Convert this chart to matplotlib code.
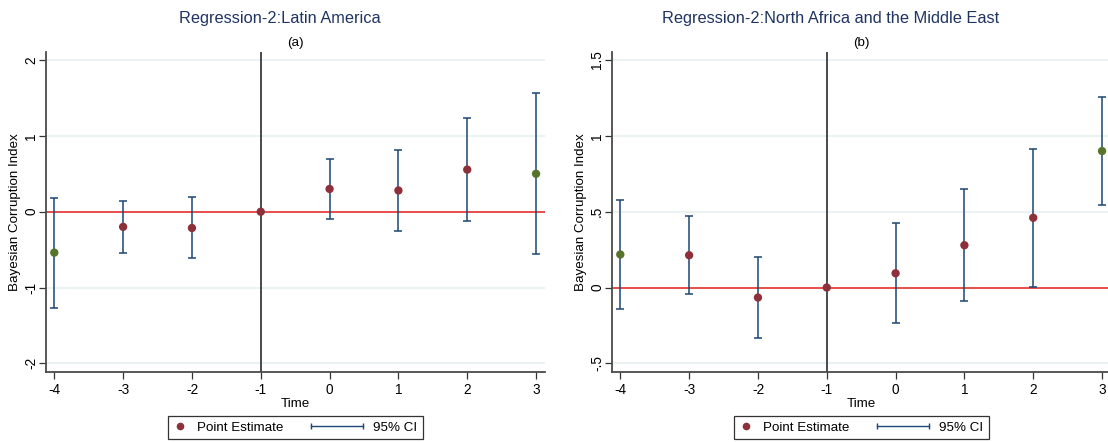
import matplotlib
matplotlib.use('Agg')
import matplotlib.pyplot as plt
from matplotlib.lines import Line2D
from matplotlib.legend_handler import HandlerLine2D

plt.rcParams['font.family'] = ['Liberation Sans', 'DejaVu Sans']

# event time
periods = [-4, -3, -2, -1, 0, 1, 2, 3]
# endpoint bins are drawn in a different colour
binned = [True, False, False, False, False, False, False, True]

# Regression-2: Latin America
latam_est = [-0.54, -0.20, -0.215, 0.0, 0.30, 0.28, 0.555, 0.50]
latam_lo = [-1.27, -0.54, -0.615, 0.0, -0.09, -0.255, -0.12, -0.56]
latam_hi = [0.185, 0.14, 0.19, 0.0, 0.70, 0.82, 1.23, 1.57]

# Regression-2: North Africa and the Middle East
mena_est = [0.218, 0.213, -0.066, 0.0, 0.094, 0.279, 0.46, 0.90]
mena_lo = [-0.141, -0.044, -0.333, 0.0, -0.233, -0.088, 0.002, 0.541]
mena_hi = [0.578, 0.47, 0.20, 0.0, 0.424, 0.649, 0.915, 1.256]

latam_yticks = [-2, -1, 0, 1, 2]
latam_ylabels = ['-2', '-1', '0', '1', '2']
mena_yticks = [-0.5, 0, 0.5, 1, 1.5]
mena_ylabels = ['-.5', '0', '.5', '1', '1.5']

NAVY = '#1d4674'
MAROON = '#8e3039'
GREEN = '#56742a'
TITLE = '#1f3461'


class HandlerCI(HandlerLine2D):
    """Horizontal capped line for the CI legend key."""
    def create_artists(self, legend, orig_handle, xdescent, ydescent,
                       width, height, fontsize, trans):
        y = (height - ydescent) / 2.0
        x1 = width - xdescent
        x0 = x1 - 3.9 * fontsize
        line = Line2D([x0, x1], [y, y], color=NAVY, lw=1.0,
                      marker='|', markersize=5, markeredgewidth=1.0)
        line.set_transform(trans)
        return [line]


def draw_panel(ax, est, lo, hi, ylim, yticks, ylabels, sub):
    ax.set_xlim(-4.125, 3.13)
    ax.set_ylim(*ylim)
    for yt in yticks:
        ax.axhline(yt, color='#e9f1f2', lw=1.3, zorder=0)
    ax.axvline(-1, color='#2b2b2b', lw=1.2, zorder=1)
    ax.axhline(0, color='#e8322e', lw=1.2, zorder=2)

    xs = [p for p, e, l, h in zip(periods, est, lo, hi) if h != l]
    ys = [e for p, e, l, h in zip(periods, est, lo, hi) if h != l]
    lower = [e - l for e, l, h in zip(est, lo, hi) if h != l]
    upper = [h - e for e, l, h in zip(est, lo, hi) if h != l]
    ax.errorbar(xs, ys, yerr=[lower, upper], fmt='none', ecolor=NAVY,
                elinewidth=1.1, capsize=3, capthick=1.1, zorder=3)
    colors = [GREEN if b else MAROON for b in binned]
    ax.scatter(periods, est, s=36, c=colors, zorder=4, linewidths=0)

    for s in ['top', 'right']:
        ax.spines[s].set_visible(False)
    for s in ['left', 'bottom']:
        ax.spines[s].set_color('#4a4a4a')
        ax.spines[s].set_linewidth(1.3)

    ax.set_xticks(periods)
    ax.set_xticklabels([str(p) for p in periods])
    ax.set_yticks(yticks)
    ax.set_yticklabels(ylabels, rotation=90, va='center')
    ax.tick_params(direction='out', length=5, width=0.9, colors='#333333',
                   labelsize=9.8, labelcolor='black', pad=3)
    ax.tick_params(axis='y', pad=0.5)
    ax.set_xlabel('Time', fontsize=9.6, labelpad=1)
    ax.set_ylabel('Bayesian Corruption Index', fontsize=9.6)
    ax.yaxis.set_label_coords(-25 / 499.3, 0.5)
    ax.set_title(sub, fontsize=9.6, pad=4)

    pt = Line2D([], [], color=MAROON, marker='o', ls='none', markersize=5.5,
                markeredgewidth=0)
    ci = Line2D([], [], color=NAVY)
    leg = ax.legend([pt, ci], ['Point Estimate', '95% CI'], ncol=2,
                    loc='upper center', bbox_to_anchor=(0.5, -0.138),
                    borderaxespad=0, frameon=True, fancybox=False,
                    handlelength=1.0, handletextpad=0.75, columnspacing=5.0,
                    borderpad=0.4, fontsize=9.6,
                    handler_map={ci: HandlerCI()})
    leg.get_frame().set_edgecolor('black')
    leg.get_frame().set_linewidth(0.9)


fig = plt.figure(figsize=(11.08, 4.42), dpi=100)
ax_a = fig.add_axes([45.7 / 1108, 70.3 / 442, 499.3 / 1108, 320 / 442])
ax_b = fig.add_axes([611.7 / 1108, 70.3 / 442, 499.3 / 1108, 320 / 442])

draw_panel(ax_a, latam_est, latam_lo, latam_hi, (-2.11, 2.11),
           latam_yticks, latam_ylabels, '(a)')
draw_panel(ax_b, mena_est, mena_lo, mena_hi, (-0.555, 1.555),
           mena_yticks, mena_ylabels, '(b)')

fig.text(280 / 1108, 1 - 18 / 442, 'Regression-2:Latin America',
         ha='center', va='center', fontsize=11.8, color=TITLE)
fig.text(831 / 1108, 1 - 18 / 442, 'Regression-2:North Africa and the Middle East',
         ha='center', va='center', fontsize=11.8, color=TITLE)

fig.savefig('out.png', dpi=100, facecolor='white')
